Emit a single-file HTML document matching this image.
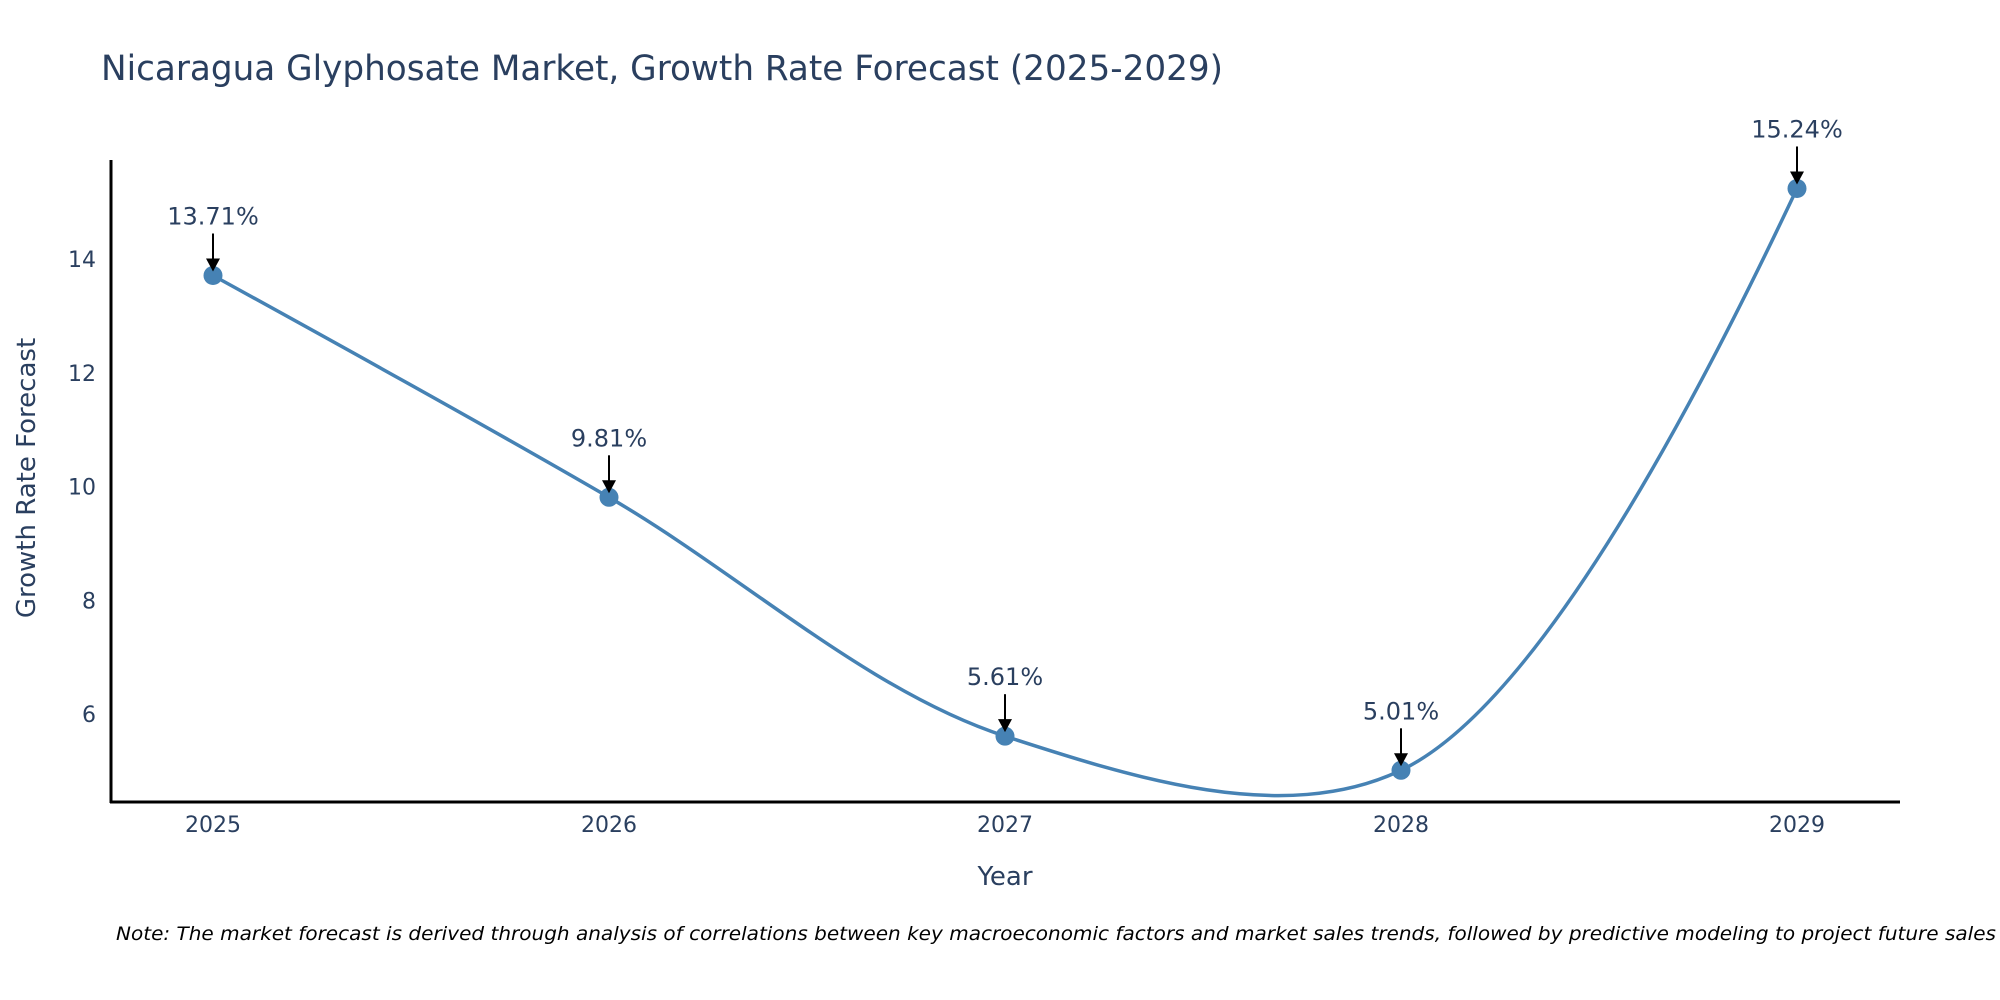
<!DOCTYPE html>
<html><head><meta charset="utf-8"><style>
body{margin:0;background:#fff;}
svg{display:block;font-family:"DejaVu Sans","Liberation Sans",sans-serif;}
</style></head><body>
<svg id="chart" width="2000" height="1000">
<text x="101" y="80" font-size="35" fill="#2a3f5f" textLength="1122" lengthAdjust="spacingAndGlyphs">Nicaragua Glyphosate Market, Growth Rate Forecast (2025-2029)</text>
<g id="yticks"></g><g id="xticks"></g>
<line x1="111" y1="160" x2="111" y2="803" stroke="#000" stroke-width="3"/>
<line x1="110" y1="802" x2="1900" y2="802" stroke="#000" stroke-width="3"/>
<path id="line" fill="none" stroke="#4682b4" stroke-width="3.5"/>
<g id="marks"></g>
<text x="1005" y="885" font-size="26" fill="#2a3f5f" text-anchor="middle">Year</text>
<text transform="translate(35,478) rotate(-90)" font-size="26" fill="#2a3f5f" text-anchor="middle">Growth Rate Forecast</text>
<text x="116" y="940" font-size="19" font-style="italic" fill="#000" textLength="1880" lengthAdjust="spacingAndGlyphs">Note: The market forecast is derived through analysis of correlations between key macroeconomic factors and market sales trends, followed by predictive modeling to project future sales</text>
</svg>
<script>
const years=["2025","2026","2027","2028","2029"];
const values=[13.71,9.81,5.61,5.01,15.24];
const labels=["13.71%","9.81%","5.61%","5.01%","15.24%"];
const yTicks=[6,8,10,12,14];
const NS="http://www.w3.org/2000/svg";
function xs(i){return 213+i*396;}
function ys(v){return 259+(14-v)*56.875;}
function mk(t,a,p){const e=document.createElementNS(NS,t);for(const k in a)e.setAttribute(k,a[k]);p.appendChild(e);return e;}
const yt=document.getElementById('yticks');
yTicks.forEach(v=>{const t=mk('text',{x:96,y:ys(v)+8,'font-size':22,fill:'#2a3f5f','text-anchor':'end'},yt);t.textContent=v;

});
const xt=document.getElementById('xticks');
years.forEach((y,i)=>{const t=mk('text',{x:xs(i),y:832,'font-size':22,fill:'#2a3f5f','text-anchor':'middle'},xt);t.textContent=y;

});
const P=values.map((v,i)=>[xs(i),ys(v)]);
function tang(a,b,c,s){const d1x=a[0]-b[0],d1y=a[1]-b[1],d2x=c[0]-b[0],d2y=c[1]-b[1];
const d1a=Math.pow(d1x*d1x+d1y*d1y,0.25),d2a=Math.pow(d2x*d2x+d2y*d2y,0.25);
const nx=(d2a*d2a*d1x-d1a*d1a*d2x)*s,ny=(d2a*d2a*d1y-d1a*d1a*d2y)*s;
const e1=3*d2a*(d1a+d2a),e2=3*d1a*(d1a+d2a);
return [[b[0]+nx/e1,b[1]+ny/e1],[b[0]-nx/e2,b[1]-ny/e2]];}
const T=[];for(let i=1;i<P.length-1;i++)T.push(tang(P[i-1],P[i],P[i+1],1));
let d="M"+P[0]+"Q"+T[0][0]+" "+P[1];
for(let i=2;i<P.length-1;i++)d+="C"+T[i-2][1]+" "+T[i-1][0]+" "+P[i];
d+="Q"+T[P.length-3][1]+" "+P[P.length-1];
document.getElementById('line').setAttribute('d',d);
const g=document.getElementById('marks');
P.forEach((p,i)=>{
const c=mk('circle',{cx:p[0],cy:p[1],r:9.5,fill:'#4682b4'},g);


const l=mk('line',{x1:p[0],y1:p[1]-42,x2:p[0],y2:p[1]-16,stroke:'#000','stroke-width':2},g);


const h=mk('polygon',{points:`${p[0]-7},${p[1]-17} ${p[0]+7},${p[1]-17} ${p[0]},${p[1]-4}`,fill:'#000'},g);


const t=mk('text',{x:p[0],y:p[1]-51,'font-size':24,fill:'#2a3f5f','text-anchor':'middle'},g);t.textContent=labels[i];


});
</script>
</body></html>
